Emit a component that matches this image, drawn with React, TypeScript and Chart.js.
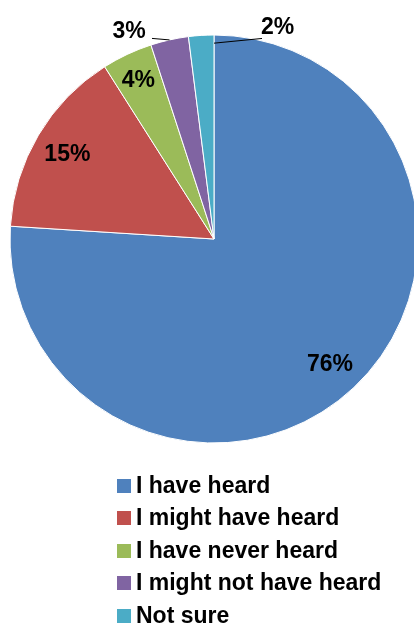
import React, { useEffect, useRef } from "react";
import { Chart, registerables } from "chart.js";

Chart.register(...registerables);

const categories = [
  "I have heard",
  "I might have heard",
  "I have never heard",
  "I might not have heard",
  "Not sure",
];
const values = [76, 15, 4, 3, 2];
const colors = ["#4F81BD", "#C0504D", "#9BBB59", "#8064A2", "#4BACC6"];

// label placement per slice (inside at a radius ratio, or outside with a leader line)
const labelLayout = [
  { mode: "in", ratio: 0.83 },
  { mode: "in", ratio: 0.835 },
  { mode: "in", ratio: 0.87 },
  { mode: "out", anchorT: 0.5, anchorR: 1.0, dx: -40.5, dy: -10.5, lx: -17.5, ly: -1.5 },
  { mode: "out", anchorT: 1.0, anchorR: 0.96, dx: 63.5, dy: -17.7, lx: 48, ly: -4.7 },
];

const FONT = '"Liberation Sans", Arial, sans-serif';

const labelPlugin = {
  id: "pieLabels",
  afterDatasetsDraw(chart: any) {
    const ctx = chart.ctx;
    const meta = chart.getDatasetMeta(0);
    const data = chart.data.datasets[0].data as number[];
    const total = data.reduce((a, b) => a + b, 0);
    const fs = 23;
    ctx.save();
    ctx.font = `bold ${fs}px ${FONT}`;
    ctx.fillStyle = "#000";
    ctx.textAlign = "center";
    ctx.textBaseline = "alphabetic";
    meta.data.forEach((arc: any, i: number) => {
      const p = arc.getProps(["x", "y", "startAngle", "endAngle", "outerRadius"], true);
      const text = Math.round((data[i] / total) * 100) + "%";
      const L: any = labelLayout[i];
      let tx: number, ty: number;
      if (L.mode === "in") {
        const a = (p.startAngle + p.endAngle) / 2;
        const r = p.outerRadius * L.ratio;
        tx = p.x + Math.cos(a) * r;
        ty = p.y + Math.sin(a) * r;
      } else {
        const a = p.startAngle + (p.endAngle - p.startAngle) * L.anchorT;
        const r = p.outerRadius * L.anchorR;
        const ax = p.x + Math.cos(a) * r;
        const ay = p.y + Math.sin(a) * r;
        ctx.beginPath();
        ctx.strokeStyle = "#000";
        ctx.lineWidth = 1;
        ctx.moveTo(ax, ay);
        ctx.lineTo(ax + L.lx, ay + L.ly);
        ctx.stroke();
        tx = ax + L.dx;
        ty = ay + L.dy;
      }
      ctx.fillText(text, tx, ty + fs * 0.358);
    });
    ctx.restore();
  },
};

export default function App() {
  const ref = useRef<HTMLCanvasElement | null>(null);
  useEffect(() => {
    if (!ref.current) return;
    const chart = new Chart(ref.current, {
      type: "pie",
      data: {
        labels: categories,
        datasets: [
          {
            data: values,
            backgroundColor: colors,
            borderColor: "#ffffff",
            borderWidth: 1,
          },
        ],
      },
      options: {
        animation: false,
        responsive: false,
        radius: 204,
        layout: { padding: 0 },
        plugins: {
          legend: { display: false },
          tooltip: { enabled: false },
        },
      } as any,
      plugins: [labelPlugin],
    });
    return () => chart.destroy();
  }, []);

  return (
    <div
      style={{
        position: "absolute",
        left: 0,
        top: 0,
        width: 414,
        height: 623,
        overflow: "hidden",
        background: "#fff",
      }}
    >
      <canvas
        ref={ref}
        width={428}
        height={478}
        style={{ position: "absolute", left: 0, top: 0, width: 428, height: 478 }}
      />
      <div
        style={{
          position: "absolute",
          left: 117,
          top: 468.5,
          fontFamily: FONT,
          fontWeight: "bold",
          fontSize: 23,
          lineHeight: "32.5px",
          color: "#000",
          whiteSpace: "nowrap",
        }}
      >
        {categories.map((c, i) => (
          <div key={c}>
            <span
              style={{
                display: "inline-block",
                width: 14,
                height: 14,
                background: colors[i],
                marginRight: 5,
                verticalAlign: "baseline",
              }}
            />
            {c}
          </div>
        ))}
      </div>
    </div>
  );
}
